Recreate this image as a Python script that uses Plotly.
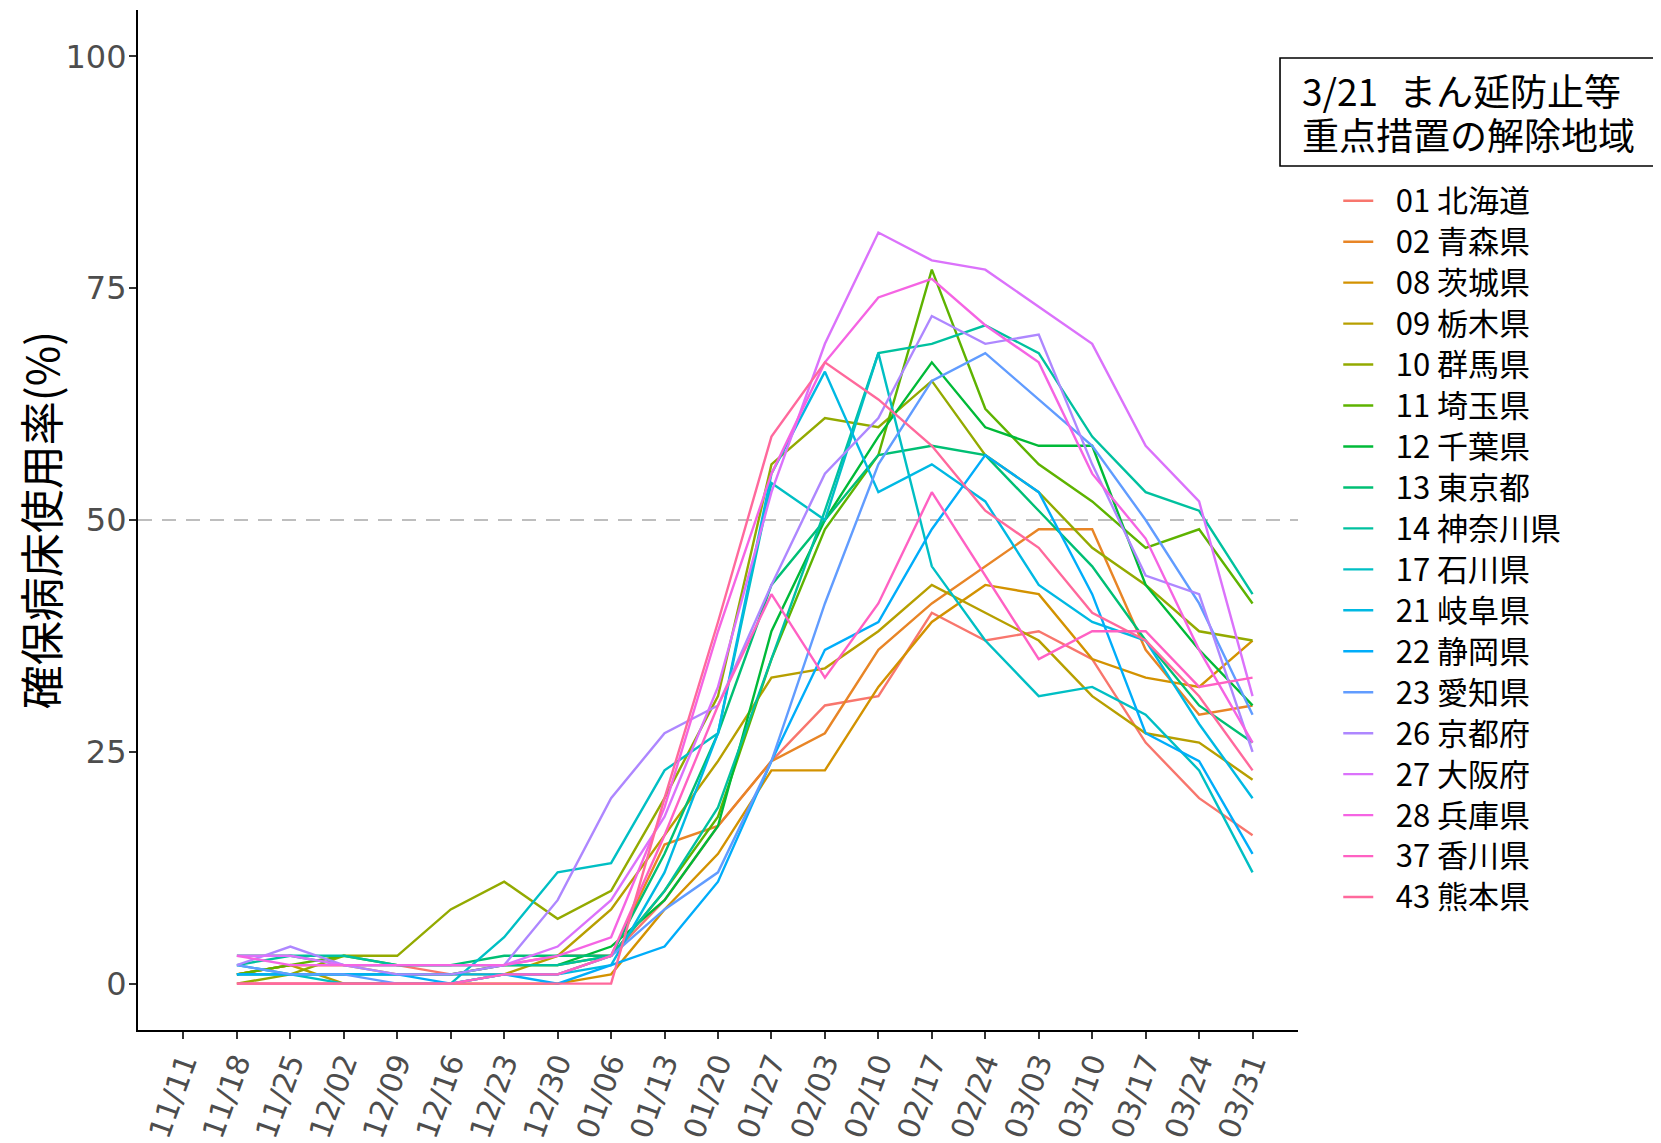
import math
import plotly.graph_objects as go

dates = ["11/11", "11/18", "11/25", "12/02", "12/09", "12/16", "12/23", "12/30",
         "01/06", "01/13", "01/20", "01/27", "02/03", "02/10", "02/17", "02/24",
         "03/03", "03/10", "03/17", "03/24", "03/31"]

# weekly values from 11/18 to 03/31 (11/11 has no data)
prefs = ["01 北海道", "02 青森県", "08 茨城県", "09 栃木県", "10 群馬県", "11 埼玉県",
         "12 千葉県", "13 東京都", "14 神奈川県", "17 石川県", "21 岐阜県", "22 静岡県",
         "23 愛知県", "26 京都府", "27 大阪府", "28 兵庫県", "37 香川県", "43 熊本県"]

hokkaido = [1, 2, 2, 2, 1, 2, 3, 3, 9, 17, 24, 30, 31, 40, 37, 38, 35, 26, 20, 16]
aomori = [1, 2, 2, 1, 1, 1, 1, 3, 15, 17, 24, 27, 36, 41, 45, 49, 49, 36, 29, 30]
ibaraki = [0, 0, 0, 0, 0, 0, 0, 1, 8, 14, 23, 23, 32, 39, 43, 42, 35, 33, 32, 37]
tochigi = [1, 2, 0, 0, 0, 1, 3, 8, 16, 24, 33, 34, 38, 43, 40, 37, 31, 27, 26, 22]
gunma = [0, 1, 3, 3, 8, 11, 7, 10, 20, 31, 56, 61, 60, 65, 57, 53, 47, 43, 38, 37]
saitama = [1, 2, 3, 2, 2, 2, 2, 3, 10, 18, 35, 49, 57, 77, 62, 56, 52, 47, 49, 41]
chiba = [1, 1, 1, 1, 1, 2, 2, 4, 9, 17, 38, 50, 59, 67, 60, 58, 58, 43, 36, 30]
tokyo = [3, 3, 2, 2, 2, 3, 3, 3, 14, 27, 43, 50, 57, 58, 57, 51, 45, 37, 30, 26]
kanagawa = [2, 3, 3, 2, 2, 2, 2, 3, 10, 19, 35, 51, 68, 69, 71, 68, 59, 53, 51, 42]
ishikawa = [2, 1, 0, 0, 0, 5, 12, 13, 23, 27, 54, 50, 68, 45, 37, 31, 32, 29, 23, 12]
gifu = [1, 1, 1, 1, 1, 1, 1, 2, 12, 27, 55, 66, 53, 56, 52, 43, 39, 37, 28, 20]
shizuoka = [1, 1, 1, 1, 0, 1, 0, 2, 4, 11, 24, 36, 39, 49, 57, 53, 42, 27, 24, 14]
aichi = [2, 1, 1, 0, 0, 1, 1, 3, 8, 12, 24, 41, 56, 65, 68, 63, 58, 50, 41, 29]
kyoto = [2, 4, 2, 1, 1, 2, 9, 20, 27, 30, 43, 55, 61, 72, 69, 70, 56, 44, 42, 25]
osaka = [3, 3, 2, 2, 2, 2, 4, 9, 18, 32, 53, 69, 81, 78, 77, 73, 69, 58, 52, 31]
hyogo = [3, 2, 2, 2, 2, 2, 3, 5, 19, 38, 55, 67, 74, 76, 71, 67, 55, 48, 36, 26]
kagawa = [0, 0, 0, 0, 0, 1, 1, 3, 16, 30, 42, 33, 41, 53, 44, 35, 38, 38, 32, 33]
kumamoto = [0, 0, 0, 0, 0, 0, 0, 0, 20, 39, 59, 67, 63, 58, 51, 47, 40, 37, 31, 23]

series = [hokkaido, aomori, ibaraki, tochigi, gunma, saitama, chiba, tokyo, kanagawa,
          ishikawa, gifu, shizuoka, aichi, kyoto, osaka, hyogo, kagawa, kumamoto]

legend_title = ["3/21\u2002\u200aまん延防止等", "重点措置の解除地域"]


def hue_color(h, c=100, l=65):
    # ggplot2 default hue palette (polar Luv -> sRGB)
    u = c * math.cos(math.radians(h))
    v = c * math.sin(math.radians(h))
    xn, yn, zn = 95.047, 100.0, 108.883
    y = yn * ((l + 16) / 116) ** 3
    den = xn + 15 * yn + 3 * zn
    up = u / (13 * l) + 4 * xn / den
    vp = v / (13 * l) + 9 * yn / den
    x = 9 * y * up / (4 * vp)
    z = y * (12 - 3 * up - 20 * vp) / (4 * vp)
    rgb = [(3.240479 * x - 1.537150 * y - 0.498535 * z) / 100,
           (-0.969256 * x + 1.875992 * y + 0.041556 * z) / 100,
           (0.055648 * x - 0.204043 * y + 1.057311 * z) / 100]
    out = []
    for ch in rgb:
        ch = 12.92 * ch if ch <= 0.0031308 else 1.055 * max(ch, 0) ** (1 / 2.4) - 0.055
        out.append(int(round(min(max(ch, 0), 1) * 255)))
    return "#%02X%02X%02X" % tuple(out)


# same as scales::hue_pal()(18): hues 15, 35, ..., 355
colors = [hue_color(15 + 360 * i / len(prefs)) for i in range(len(prefs))]

fig = go.Figure()
for name, vals, col in zip(prefs, series, colors):
    # legend rows are spaced by the legend font size, the span makes the glyphs a bit bigger
    label = '<span style="font-size:31px">\u2002\u200a' + name + '</span>'
    fig.add_trace(go.Scatter(
        x=dates, y=[None] + vals, mode="lines", name=label,
        line=dict(color=col, width=2.4), connectgaps=False,
    ))

font_main = "DejaVu Sans, Noto Sans CJK JP, sans-serif"
font_jp = "Noto Sans CJK JP"

# 50% reference line
fig.add_shape(type="line", xref="paper", x0=0, x1=1, y0=50, y1=50,
              line=dict(color="#BEBEBE", width=2, dash="14px,10px"), layer="below")

# boxed legend title
fig.add_shape(type="rect", xref="paper", yref="paper", x0=0.9845, x1=1.3125, y0=0.847, y1=0.953,
              line=dict(color="black", width=1.6), fillcolor="white")
for txt, yy in zip(legend_title, [0.922, 0.878]):
    fig.add_annotation(text=txt, xref="paper", yref="paper", x=1.0015, y=yy,
                       xanchor="left", yanchor="middle", showarrow=False,
                       font=dict(family=font_jp, size=37, color="black"))

# the page puts the figure 8px in from the top-left corner, so the figure is
# 8px smaller and the margins are moved to keep the plot where it belongs
fig.update_layout(
    width=1653, height=1135,
    margin=dict(l=130, r=363, t=2, b=113, autoexpand=False),
    paper_bgcolor="white", plot_bgcolor="white",
    font=dict(family=font_main, color="#4D4D4D"),
    legend=dict(x=1.0347, y=0.838, xanchor="left", yanchor="top",
                font=dict(family=font_jp, size=29.2, color="black"),
                bgcolor="rgba(0,0,0,0)", tracegroupgap=0, itemwidth=30),
    showlegend=True,
)
fig.update_xaxes(
    type="category", categoryorder="array", categoryarray=dates, automargin=False,
    range=[-0.85, 20.85], showgrid=False, zeroline=False,
    showline=True, linecolor="black", linewidth=2.2,
    ticks="outside", ticklen=7, tickwidth=2, tickcolor="#333333",
    tickangle=-70, tickfont=dict(size=30, color="#4D4D4D"), ticklabelstandoff=-6,
)
fig.update_yaxes(
    range=[-5, 105], tickvals=[0, 25, 50, 75, 100], showgrid=False, zeroline=False,
    automargin=False, showline=True, linecolor="black", linewidth=2.2,
    ticks="outside", ticklen=7, tickwidth=2, tickcolor="#333333",
    tickfont=dict(size=32, color="#4D4D4D"), ticklabelstandoff=-4,
    title=dict(text="確保病床使用率(%)", font=dict(family=font_jp, size=44, color="black"),
               standoff=22),
)

fig.write_html("out.html")
